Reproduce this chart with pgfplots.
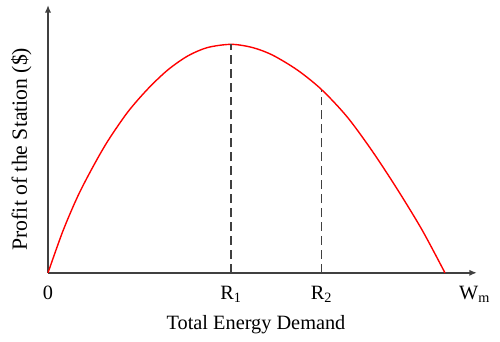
\documentclass[border=0pt]{standalone}
\usepackage{fontspec}
\setmainfont{Liberation Serif}
\usepackage{pgfplots}
\pgfplotsset{compat=1.18}
\usetikzlibrary{arrows.meta}
\definecolor{AxisGray}{HTML}{404040}

\begin{document}
\begin{tikzpicture}
  \begin{axis}[
    scale only axis,
    width=214.5bp, height=133.9bp,
    axis lines=left,
    axis line style={-{Latex[length=3.8pt,width=3.2pt]}, draw=AxisGray, line width=0.9pt},
    xmin=0, xmax=430, ymin=0, ymax=268,
    xtick={0,183.7,274.3,428},
    xticklabels={0, R\textsubscript{1}, R\textsubscript{2}, W\textsubscript{m}},
    ytick=\empty,
    major tick length=0pt,
    tick label style={font=\fontsize{10.2}{12}\selectfont},
    xticklabel style={yshift=-3pt},
    xlabel={Total Energy Demand},
    ylabel={Profit of the Station (\$)},
    xlabel style={font=\fontsize{10.2}{12}\selectfont, at={(rel axis cs:0.485,-0.195)}, anchor=center},
    ylabel style={font=\fontsize{10.9}{12}\selectfont, at={(rel axis cs:-0.062,0.462)}, anchor=center},
    clip=false,
  ]
    % profit curve (pixel units from origin)
    \addplot[red, line width=0.7pt, smooth, tension=0.5] coordinates {
      (0,0) (15,42) (30,77) (45,106) (60,132) (80,161) (100,184)
      (120,203) (140,217) (160,225.5) (183.7,228.7) (205,225.5)
      (225,218) (250,203) (274.3,183.4) (300,156) (325,122)
      (350,84) (375,43) (398,0)
    };
    % R1 and R2 markers
    \addplot[AxisGray, line width=0.9pt, dash pattern=on 4.5pt off 2.5pt] coordinates {(183.7,0) (183.7,228.7)};
    \addplot[AxisGray, line width=0.9pt, dash pattern=on 4.5pt off 2.5pt] coordinates {(274.3,0) (274.3,183.4)};
    \path (rel axis cs:-0.112,-0.255) rectangle (rel axis cs:1.054,1.019);
  \end{axis}
\end{tikzpicture}
\end{document}
